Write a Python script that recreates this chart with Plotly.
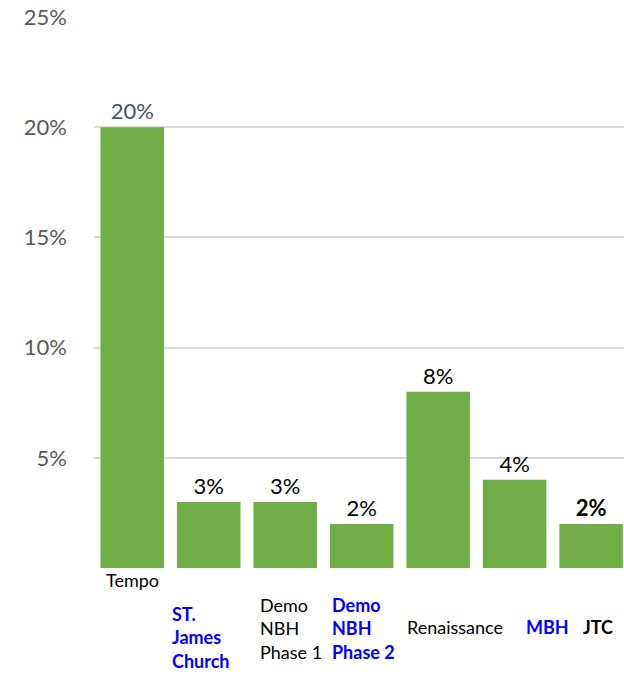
import plotly.graph_objects as go

# ---- data ----
categories = ["Tempo", "ST. James Church", "Demo NBH Phase 1", "Demo NBH Phase 2",
              "Renaissance", "MBH", "JTC"]
values = [20, 3, 3, 2, 8, 4, 2]
y_ticks = [5, 10, 15, 20, 25]
y_tick_labels = ["5%", "10%", "15%", "20%", "25%"]

# ---- styling ----
BAR = "#70AD47"
BLUE = "#0000FF"
FONT = "Lato"
label_colors = ["#44546A"] + ["#000000"] * 6
bold_labels = {6}

text = [("<b>%d%%</b>" if i in bold_labels else "%d%%") % v for i, v in enumerate(values)]

fig = go.Figure()
fig.add_trace(go.Bar(
    x=list(range(len(categories))),
    y=values,
    marker=dict(color=BAR, line=dict(width=0)),
    text=text,
    textposition="outside",
    textfont=dict(family=FONT, size=22, color=label_colors),
    cliponaxis=False,
    hovertext=categories,
))

# category label styling: (html text, color, bold, xshift, yshift)
cat_style = [
    ("Tempo", "#000000", False, 0, -12),
    ("ST.<br>James<br>Church", BLUE, True, -8, -69),
    ("Demo<br>NBH<br>Phase 1", "#000000", False, 6, -60),
    ("Demo<br>NBH<br>Phase 2", BLUE, True, 2, -60),
    ("Renaissance", "#000000", False, 17, -59),
    ("MBH", BLUE, True, 33, -59),
    ("JTC", "#000000", True, 7, -59),
]
for i, (t, c, b, xs, ys) in enumerate(cat_style):
    fig.add_annotation(
        x=i, xref="x", y=0, yref="paper",
        text=("<b>%s</b>" % t) if b else t,
        showarrow=False, align="left",
        xanchor="center", yanchor="middle",
        xshift=xs, yshift=ys,
        font=dict(family=FONT, size=18, color=c),
    )

fig.update_layout(
    width=624, height=675,
    margin=dict(l=94, r=0, t=17, b=107),
    paper_bgcolor="white", plot_bgcolor="white",
    bargap=0.17,
    showlegend=False,
    xaxis=dict(range=[-0.5, 6.43], showticklabels=False, showgrid=False,
               zeroline=False, showline=False, ticks=""),
    yaxis=dict(range=[0, 25], tickvals=y_ticks, ticktext=y_tick_labels,
               showgrid=True, gridcolor="#D9D9D9", gridwidth=1.5,
               zeroline=False, showline=False, ticks="",
               ticklabelstandoff=26,
               tickfont=dict(family=FONT, size=22, color="#595959")),
)

fig.write_html("out.html")
